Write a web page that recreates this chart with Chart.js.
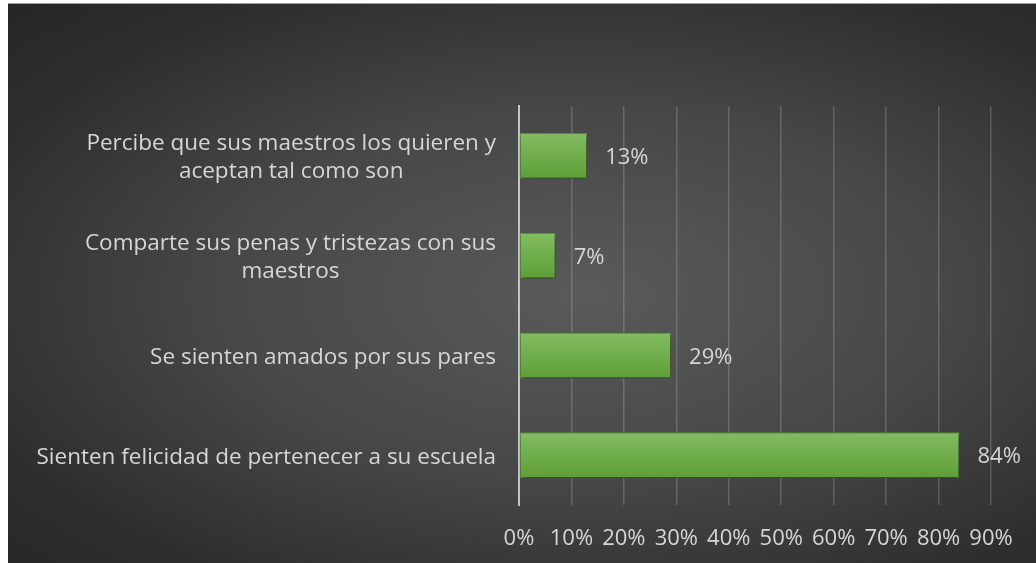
<!DOCTYPE html>
<html>
<head>
<meta charset="utf-8">
<script src="https://cdn.jsdelivr.net/npm/chart.js@4/dist/chart.umd.min.js"></script>
<style>
  html, body { margin: 0; padding: 0; background: #ffffff; }
  #wrap {
    position: absolute; left: 8px; top: 3px; width: 1028px; height: 560px;
    border-top: 1px solid #a0a0a0; box-sizing: border-box;
    background: radial-gradient(ellipse farthest-corner at 56% 52%, #5a5a5a 0%, #474747 45%, #2e2e2e 80%, #262626 100%);
  }
</style>
</head>
<body>
<div id="wrap"><canvas id="grafico"></canvas></div>
<script>
const categorias = [
    ["Percibe que sus maestros los quieren y", "aceptan tal como son"],
    ["Comparte sus penas y tristezas con sus", "maestros"],
    ["Se sienten amados por sus pares"],
    ["Sienten felicidad de pertenecer a su escuela"]
];
const porcentajes = [13, 7, 29, 84];
const ticksX = [0, 10, 20, 30, 40, 50, 60, 70, 80, 90];

const fuente = "'Open Sans', 'DejaVu Sans', sans-serif";
const colorTexto = "#d6d6d6";

// degradado vertical de cada barra
function verdeBarra(context) {
    const chart = context.chart;
    const y = chart.scales.y;
    if (!chart.chartArea || !y) return "#6aab44";
    const centro = y.getPixelForValue(context.dataIndex);
    const g = chart.ctx.createLinearGradient(0, centro - 23, 0, centro + 23);
    g.addColorStop(0, "#82bd62");
    g.addColorStop(1, "#5e9e36");
    return g;
}

// sombra de las barras
const sombra = {
    id: "sombra",
    beforeDatasetsDraw(chart) {
        const ctx = chart.ctx;
        ctx.save();
        ctx.shadowColor = "rgba(0,0,0,0.55)";
        ctx.shadowBlur = 6;
        ctx.shadowOffsetX = 2;
        ctx.shadowOffsetY = 3;
    },
    afterDatasetsDraw(chart) {
        chart.ctx.restore();
    }
};

// etiquetas de categoria y de valor
const etiquetas = {
    id: "etiquetas",
    afterDraw(chart) {
        const ctx = chart.ctx;
        const y = chart.scales.y;
        const linea = 28;
        ctx.save();
        ctx.font = "22.5px " + fuente;
        ctx.fillStyle = colorTexto;
        ctx.textBaseline = "middle";
        ctx.textAlign = "center";
        categorias.forEach(function (lineas, i) {
            const anchoMax = Math.max.apply(null, lineas.map(l => ctx.measureText(l).width));
            const derecha = chart.chartArea.left - 23;
            const cx = derecha - anchoMax / 2;
            const cy = y.getPixelForValue(i) + 2;
            const inicio = cy - (lineas.length - 1) * linea / 2;
            lineas.forEach(function (l, j) {
                ctx.fillText(l, cx, inicio + j * linea);
            });
        });
        ctx.font = "22px " + fuente;
        ctx.textAlign = "left";
        const meta = chart.getDatasetMeta(0);
        meta.data.forEach(function (barra, i) {
            ctx.fillText(porcentajes[i] + "%", barra.x + 18, barra.y + 2);
        });
        ctx.restore();
    }
};

new Chart(document.getElementById("grafico"), {
    type: "bar",
    data: {
        labels: categorias,
        datasets: [{
            data: porcentajes,
            backgroundColor: verdeBarra,
            borderColor: "#5a9833",
            borderWidth: 1,
            borderSkipped: false,
            categoryPercentage: 1,
            barPercentage: 0.46
        }]
    },
    options: {
        indexAxis: "y",
        responsive: true,
        maintainAspectRatio: false,
        animation: false,
        layout: { padding: { top: 102, right: 45, left: 0, bottom: 0 } },
        plugins: {
            legend: { display: false },
            tooltip: { enabled: false }
        },
        scales: {
            x: {
                min: 0,
                max: 90,
                afterBuildTicks: function (s) { s.ticks = ticksX.map(v => ({ value: v })); },
                afterFit: function (s) { s.height = 58; },
                grid: { color: "rgba(217,217,217,0.22)", lineWidth: 1.5, drawTicks: false },
                border: { display: false },
                ticks: {
                    padding: 21,
                    color: colorTexto,
                    font: { family: fuente, size: 22 },
                    callback: v => v + "%"
                }
            },
            y: {
                afterFit: function (s) { s.width = 511; },
                grid: { display: false },
                border: { color: "#c4c4c4", width: 2 },
                ticks: { display: false }
            }
        }
    },
    plugins: [sombra, etiquetas]
});
</script>
</body>
</html>
